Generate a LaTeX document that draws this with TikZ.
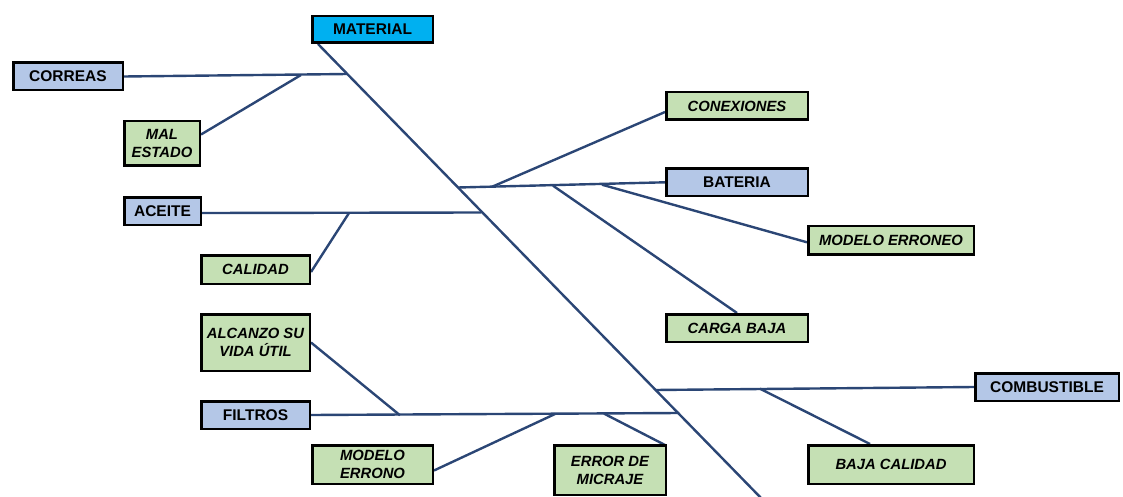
\documentclass[tikz,border=0pt]{standalone}
\usepackage{fontspec}
\setmainfont{Liberation Sans}
\usetikzlibrary{calc}
\pgfdeclarelayer{bg}
\pgfsetlayers{bg,main}
\definecolor{bluefill}{HTML}{B4C7E7}
\definecolor{greenfill}{HTML}{C5E0B4}
\definecolor{matfill}{HTML}{00B0F0}
\definecolor{bonecol}{HTML}{2B4675}
\begin{document}
\begin{tikzpicture}[x=1pt,y=-1pt,
  box/.style={draw=black,line width=2.5pt,inner sep=0pt,align=center,
    font=\fontsize{15.5}{18}\selectfont\bfseries},
  cause/.style={box,fill=bluefill},
  head/.style={box,fill=matfill},
  sub/.style={box,fill=greenfill,font=\fontsize{14.8}{18}\selectfont\bfseries\itshape},
  bone/.style={draw=bonecol,line width=2.4pt}]
\useasboundingbox (0,0) rectangle (1123,497);
\clip (0,0) rectangle (1123,497);

% boxes
\node[head,minimum width=120.5pt,minimum height=26.5pt] (material) at (372.5,29.5) {MATERIAL};
\node[cause,minimum width=109.5pt,minimum height=27.5pt] (correas) at (68,76.5) {CORREAS};
\node[sub,minimum width=75.5pt,minimum height=44.5pt] (mal) at (162,143.5) {MAL\\ESTADO};
\node[cause,minimum width=76.5pt,minimum height=27.5pt] (aceite) at (162.5,211) {ACEITE};
\node[sub,minimum width=108.5pt,minimum height=28.5pt] (calidad) at (255.5,269.5) {CALIDAD};
\node[sub,minimum width=108.5pt,minimum height=56.5pt] (alcanzo) at (255.5,342.5) {ALCANZO SU\\VIDA ÚTIL};
\node[cause,minimum width=108.5pt,minimum height=27.5pt] (filtros) at (255.5,415) {FILTROS};
\node[sub,minimum width=120.5pt,minimum height=38.5pt] (errono) at (372.5,464.5) {MODELO\\ERRONO};
\node[sub,minimum width=111.5pt,minimum height=49.5pt] (micraje) at (610,470) {ERROR DE\\MICRAJE};
\node[sub,minimum width=141.5pt,minimum height=27.5pt] (conex) at (737,106) {CONEXIONES};
\node[cause,minimum width=141.5pt,minimum height=27.5pt] (bateria) at (737,182.3) {BATERIA};
\node[sub,minimum width=165.5pt,minimum height=28.5pt] (erroneo) at (891,240.3) {MODELO ERRONEO};
\node[sub,minimum width=141.5pt,minimum height=27.5pt] (carga) at (737,328) {CARGA BAJA};
\node[cause,minimum width=143.5pt,minimum height=27.5pt] (comb) at (1047,387) {COMBUSTIBLE};
\node[sub,minimum width=165.5pt,minimum height=38.5pt] (baja) at (891,464.5) {BAJA CALIDAD};

% junction points
\coordinate (tail) at (762,499);
\coordinate (jCorreas) at (347.5,74);
\coordinate (jMal) at (301,75);
\coordinate (jAceite) at (481,212.5);
\coordinate (jCalidad) at (349,213);
\coordinate (jBateria) at (458,187.5);
\coordinate (jConex) at (492,186.8);
\coordinate (jCarga) at (553,185.7);
\coordinate (jErroneo) at (602,184.7);
\coordinate (jComb) at (655,390);
\coordinate (jBaja) at (760,388.7);
\coordinate (jFiltros) at (679,413);
\coordinate (jAlcanzo) at (400,415.3);
\coordinate (jErrono) at (555,414);
\coordinate (jMicraje) at (604,413.6);

\begin{pgfonlayer}{bg}
\draw[bone] ($(material.south west)+(7,0)$) -- (tail);
\draw[bone] (correas.east) -- (jCorreas);
\draw[bone] ($(mal.east)+(0,-9)$) -- (jMal);
\draw[bone] ($(aceite.east)+(0,2)$) -- (jAceite);
\draw[bone] ($(calidad.east)+(0,2.5)$) -- (jCalidad);
\draw[bone] (jBateria) -- (bateria.west);
\draw[bone] (jConex) -- ($(conex.west)+(0,6)$);
\draw[bone] (jCarga) -- (carga.north);
\draw[bone] (jErroneo) -- ($(erroneo.west)+(0,2)$);
\draw[bone] (jComb) -- (comb.west);
\draw[bone] (jBaja) -- ($(baja.north)+(-21,0)$);
\draw[bone] (filtros.east) -- (jFiltros);
\draw[bone] (alcanzo.east) -- (jAlcanzo);
\draw[bone] ($(errono.east)+(0,6)$) -- (jErrono);
\draw[bone] (jMicraje) -- ($(micraje.north east)+(-2,1)$);
\end{pgfonlayer}
\end{tikzpicture}
\end{document}
